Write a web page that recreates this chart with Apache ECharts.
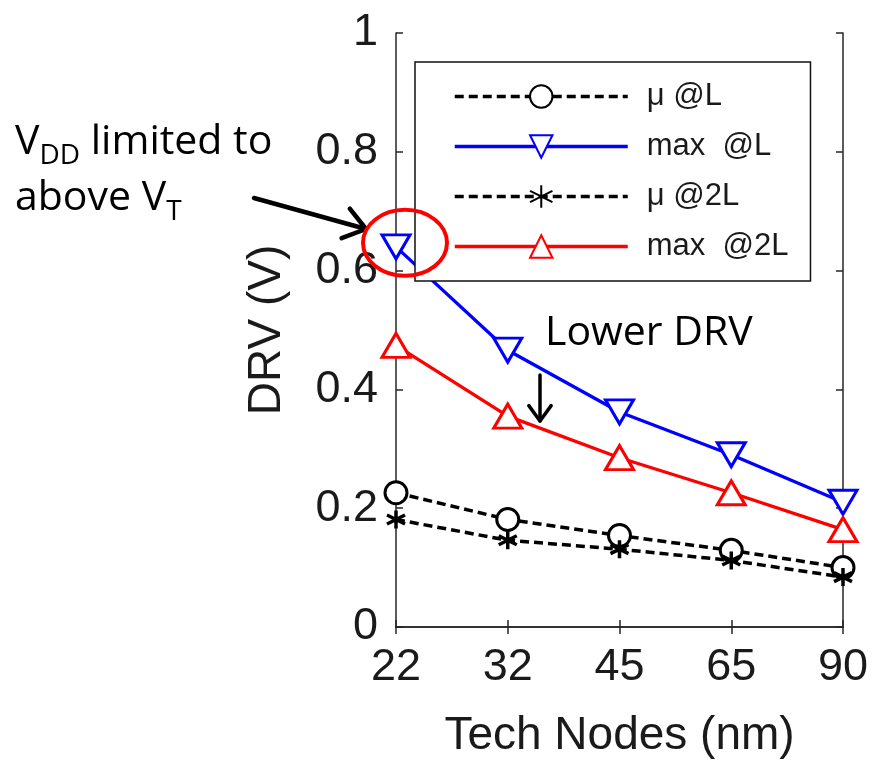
<!DOCTYPE html>
<html>
<head>
<meta charset="utf-8">
<script src="https://cdn.jsdelivr.net/npm/echarts@6/dist/echarts.min.js"></script>
<style>
  html, body { margin: 0; padding: 0; background: #fff; }
  #chart { width: 872px; height: 764px; }
</style>
</head>
<body>
<div id="chart"></div>
<script>
// Technology nodes (nm) on the x axis
const techNodes = ['22', '32', '45', '65', '90'];

// Data retention voltage (V) per node
const muL    = [0.226, 0.181, 0.154, 0.129, 0.100];
const maxL   = [0.640, 0.466, 0.362, 0.290, 0.210];
const mu2L   = [0.181, 0.146, 0.131, 0.112, 0.084];
const max2L  = [0.474, 0.355, 0.285, 0.226, 0.164];

const seriesNames = ['\u03BC @L', 'max  @L', '\u03BC @2L', 'max  @2L'];
const yTicks = [0, 0.2, 0.4, 0.6, 0.8, 1];

const AXIS = '#262626';
const TICK_FONT = 'Liberation Sans, Arial, Helvetica, sans-serif';
const NOTE_FONT = 'Open Sans, Lato, sans-serif';

// asterisk marker: vertical stroke plus two diagonals
const asterisk = 'path://M5,0L5,10M0.67,2.5L9.33,7.5M0.67,7.5L9.33,2.5';

const chart = echarts.init(document.getElementById('chart'), null, { renderer: 'canvas' });

const frameAxis = {
  axisLine: { show: true, lineStyle: { color: AXIS, width: 1.5 } },
  axisTick: { show: true, inside: true, length: 7, lineStyle: { color: AXIS, width: 1.5 } },
  splitLine: { show: false }
};

const option = {
  backgroundColor: '#fff',
  animation: false,
  grid: { left: 396, right: 29, top: 33, bottom: 134, containLabel: false },
  xAxis: [
    Object.assign({
      type: 'category', data: techNodes, boundaryGap: false, position: 'bottom',
      name: 'Tech Nodes (nm)', nameLocation: 'middle', nameGap: 86,
      nameTextStyle: { fontSize: 46, fontFamily: TICK_FONT, color: '#1a1a1a' },
      axisLabel: { fontSize: 45, fontFamily: TICK_FONT, color: '#1a1a1a', margin: 18 }
    }, frameAxis),
    Object.assign({
      type: 'category', data: techNodes, boundaryGap: false, position: 'top',
      axisLabel: { show: false }
    }, frameAxis)
  ],
  yAxis: [
    Object.assign({
      type: 'value', min: 0, max: 1, interval: 0.2, position: 'left',
      name: 'DRV (V)', nameLocation: 'middle', nameGap: 106,
      nameTextStyle: { fontSize: 46, fontFamily: TICK_FONT, color: '#1a1a1a' },
      axisLabel: {
        fontSize: 45, fontFamily: TICK_FONT, color: '#1a1a1a', margin: 18,
        formatter: v => String(yTicks.find(t => Math.abs(t - v) < 1e-9) ?? v)
      }
    }, frameAxis),
    Object.assign({
      type: 'value', min: 0, max: 1, interval: 0.2, position: 'right',
      axisLabel: { show: false }
    }, frameAxis)
  ],
  legend: {
    orient: 'vertical', left: 415, top: 62,
    padding: [19, 22, 19, 38],
    itemWidth: 173, itemHeight: 28, itemGap: 19,
    backgroundColor: '#fff',
    borderColor: '#111', borderWidth: 1.5,
    lineStyle: { width: 3.5 },
    textStyle: { fontSize: 31, fontFamily: TICK_FONT, color: '#1a1a1a', padding: [0, 0, 0, 14] },
    data: seriesNames
  },
  series: [
    {
      name: seriesNames[0], type: 'line', data: muL, z: 2,
      symbol: 'circle', symbolSize: 22,
      lineStyle: { color: '#000', width: 3.5, type: [9, 5] },
      itemStyle: { color: '#fff', borderColor: '#000', borderWidth: 3 }
    },
    {
      name: seriesNames[1], type: 'line', data: maxL, z: 3,
      symbol: 'triangle', symbolRotate: 180, symbolSize: [28, 24],
      lineStyle: { color: '#0000ff', width: 3.3 },
      itemStyle: { color: '#fff', borderColor: '#0000ff', borderWidth: 3 }
    },
    {
      name: seriesNames[2], type: 'line', data: mu2L, z: 2,
      symbol: asterisk, symbolSize: 18,
      lineStyle: { color: '#000', width: 3.5, type: [9, 5] },
      itemStyle: { color: '#000', borderColor: '#000', borderWidth: 3.5 }
    },
    {
      name: seriesNames[3], type: 'line', data: max2L, z: 3,
      symbol: 'triangle', symbolSize: [28, 24],
      lineStyle: { color: '#ff0000', width: 3.3 },
      itemStyle: { color: '#fff', borderColor: '#ff0000', borderWidth: 3 }
    }
  ]
};

chart.setOption(option);

// Stick arrow from (x1,y1) to the tip (x2,y2)
function arrow(x1, y1, x2, y2, head, width) {
  const a = Math.atan2(y2 - y1, x2 - x1);
  const spread = Math.PI / 5;
  const b1 = [x2 - head * Math.cos(a - spread), y2 - head * Math.sin(a - spread)];
  const b2 = [x2 - head * Math.cos(a + spread), y2 - head * Math.sin(a + spread)];
  const style = { stroke: '#000', lineWidth: width, fill: 'none', lineCap: 'round', lineJoin: 'round' };
  return [
    { type: 'polyline', shape: { points: [[x1, y1], [x2, y2]] }, style, z: 20 },
    { type: 'polyline', shape: { points: [b1, [x2, y2], b2] }, style, z: 20 }
  ];
}

// Callouts placed around the 22 nm worst-case point
const p22 = chart.convertToPixel({ xAxisIndex: 0, yAxisIndex: 0 }, [techNodes[0], maxL[0]]);

const noteRich = {
  m: { fontSize: 41, fontFamily: NOTE_FONT, color: '#000', lineHeight: 56 },
  s: { fontSize: 28, fontFamily: NOTE_FONT, color: '#000', lineHeight: 32, verticalAlign: 'bottom' }
};

chart.setOption({
  graphic: [
    {
      type: 'ellipse', z: 30,
      shape: { cx: p22[0] + 9, cy: p22[1] - 4, rx: 42, ry: 33 },
      style: { fill: 'none', stroke: '#ff0000', lineWidth: 4 }
    },
    ...arrow(254, 198, 366, 229, 26, 4.5),
    ...arrow(540, 375, 540, 421, 19, 3.5),
    {
      type: 'text', left: 15, top: 122, z: 20,
      style: {
        text: '{m|V}{s|DD}{m| limited to}\n{m|above V}{s|T}',
        rich: noteRich
      }
    },
    {
      type: 'text', left: 545, top: 313, z: 20,
      style: { text: 'Lower DRV', font: '41px ' + NOTE_FONT, fill: '#000' }
    }
  ]
});
</script>
</body>
</html>
